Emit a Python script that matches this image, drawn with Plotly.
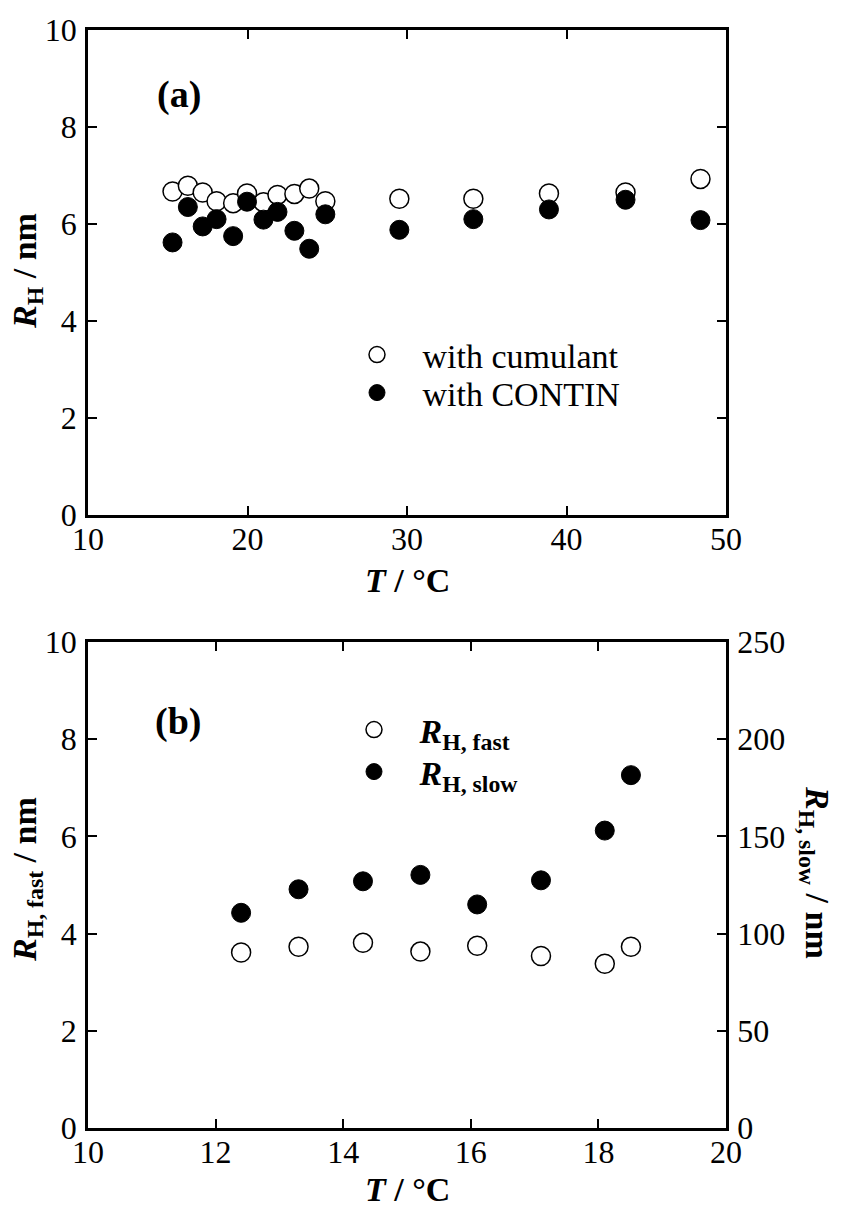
import plotly.graph_objects as go

# ---------------- data ----------------
# panel (a)
T_a = [15.3, 16.26, 17.19, 18.06, 19.1, 19.97, 21.0, 21.88, 22.94, 23.87, 24.88,
       29.52, 34.16, 38.9, 43.7, 48.4]
RH_cumulant = [6.67, 6.79, 6.65, 6.47, 6.43, 6.63, 6.45, 6.6, 6.62, 6.73, 6.47,
               6.52, 6.52, 6.63, 6.65, 6.93]
RH_contin = [5.62, 6.35, 5.95, 6.1, 5.75, 6.46, 6.09, 6.25, 5.86, 5.49, 6.2,
             5.88, 6.1, 6.3, 6.5, 6.08]
# panel (b)
T_b = [12.4, 13.3, 14.31, 15.21, 16.1, 17.1, 18.1, 18.51]
RH_fast = [3.61, 3.73, 3.81, 3.63, 3.75, 3.54, 3.38, 3.73]
RH_slow = [110.7, 122.8, 126.9, 130.2, 115.0, 127.4, 153.0, 181.5]

xticks_a = [10, 20, 30, 40, 50]
xticks_b = [10, 12, 14, 16, 18, 20]
yticks_left = [0, 2, 4, 6, 8, 10]
yticks_right = [0, 50, 100, 150, 200, 250]

FONT = "Liberation Serif"
W, H = 841, 1208
SP = "\u00a0\u00a0\u00a0"

fig = go.Figure()

open_marker = dict(symbol="circle", size=19, color="white",
                   line=dict(color="black", width=1.5))
fill_marker = dict(symbol="circle", size=19, color="black",
                   line=dict(color="black", width=1))

fig.add_trace(go.Scatter(x=T_a, y=RH_cumulant, mode="markers", marker=open_marker,
                         name=SP + "with cumulant", xaxis="x", yaxis="y", legend="legend"))
fig.add_trace(go.Scatter(x=T_a, y=RH_contin, mode="markers", marker=fill_marker,
                         name=SP + "with CONTIN", xaxis="x", yaxis="y", legend="legend2"))
fig.add_trace(go.Scatter(x=T_b, y=RH_fast, mode="markers", marker=open_marker,
                         name=SP + "<b><i>R</i><sub>H, fast</sub></b>", xaxis="x2", yaxis="y2",
                         legend="legend3"))
fig.add_trace(go.Scatter(x=T_b, y=RH_slow, mode="markers", marker=fill_marker,
                         name=SP + "<b><i>R</i><sub>H, slow</sub></b>", xaxis="x2", yaxis="y3",
                         legend="legend4"))

xdom = [88 / W, 726 / W]
ydom_a = [1 - 515 / H, 1 - 30 / H]
ydom_b = [1 - 1128 / H, 1 - 642 / H]

axis_common = dict(showline=True, linecolor="black", linewidth=2.5,
                   ticks="inside", ticklen=9, tickwidth=1.5, tickcolor="black",
                   showgrid=False, zeroline=False, automargin=False,
                   tickfont=dict(family=FONT, size=32, color="black"))


def leg(xc, yc):
    return dict(x=(xc - 23) / W, y=1 - yc / H, xanchor="left", yanchor="middle",
                bgcolor="rgba(0,0,0,0)", font=dict(family=FONT, size=34, color="black"),
                itemsizing="trace", borderwidth=0)


fig.update_layout(
    width=W, height=H,
    margin=dict(l=0, r=0, t=0, b=0),
    paper_bgcolor="white", plot_bgcolor="white",
    font=dict(family=FONT, size=34, color="black"),
    xaxis=dict(domain=xdom, anchor="y", range=[10, 50], tickvals=xticks_a,
               mirror="ticks", ticklabelstandoff=-6, **axis_common),
    yaxis=dict(domain=ydom_a, anchor="x", range=[0, 10], tickvals=yticks_left,
               mirror="ticks", ticklabelstandoff=2, **axis_common),
    xaxis2=dict(domain=xdom, anchor="y2", range=[10, 20], tickvals=xticks_b,
                mirror="ticks", ticklabelstandoff=-6, **axis_common),
    yaxis2=dict(domain=ydom_b, anchor="x2", range=[0, 10], tickvals=yticks_left,
                mirror=True, ticklabelstandoff=2, **axis_common),
    yaxis3=dict(overlaying="y2", anchor="x2", side="right", range=[0, 250],
                tickvals=yticks_right, ticklabelstandoff=2, **axis_common),
    legend=leg(380, 355),
    legend2=leg(380, 393),
    legend3=leg(377, 730),
    legend4=leg(377, 772),
    showlegend=True,
)

annots = [
    dict(text="<b>(a)</b>", x=179 / W, y=1 - 95 / H, font=dict(size=38)),
    dict(text="<b>(b)</b>", x=178 / W, y=1 - 721 / H, font=dict(size=38)),
    dict(text="<b><i>R</i><sub>H</sub> / nm</b>", x=27 / W, y=1 - 271 / H, textangle=-90),
    dict(text="<b><i>T</i> / °C</b>", x=407 / W, y=1 - 580 / H),
    dict(text="<b><i>R</i><sub>H, fast</sub> / nm</b>", x=27 / W, y=1 - 880 / H, textangle=-90),
    dict(text="<b><i>R</i><sub>H, slow</sub> / nm</b>", x=815 / W, y=1 - 872 / H, textangle=90),
    dict(text="<b><i>T</i> / °C</b>", x=407 / W, y=1 - 1189 / H),
]
for a in annots:
    a.setdefault("font", {})
    a["font"] = dict(family=FONT, color="black", size=a["font"].get("size", 34))
    fig.add_annotation(xref="paper", yref="paper", showarrow=False,
                       xanchor="center", yanchor="middle", **a)

fig.write_html("out.html")
